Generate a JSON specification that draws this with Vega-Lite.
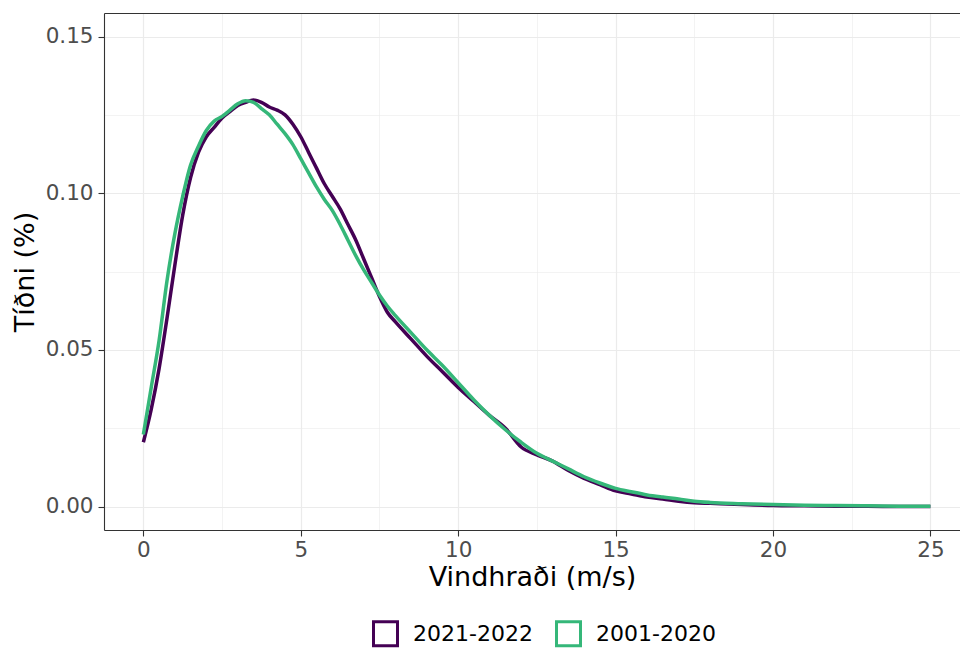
{
  "$schema": "https://vega.github.io/schema/vega-lite/v6.json",
  "autosize": {"type": "none"},
  "padding": {"left": 104, "top": 13, "right": 0, "bottom": 123},
  "width": 856,
  "height": 517,
  "background": "white",
  "config": {
    "view": {"stroke": null},
    "font": "DejaVu Sans",
    "axis": {
      "labelFont": "DejaVu Sans",
      "titleFont": "DejaVu Sans",
      "labelFontSize": 21.5,
      "labelColor": "#4D4D4D",
      "titleFontSize": 27,
      "titleFontWeight": "normal",
      "titleColor": "#000000",
      "tickColor": "#333333",
      "tickSize": 6,
      "tickWidth": 1.1,
      "domainColor": "#333333",
      "domainWidth": 1.1,
      "gridColor": "#EBEBEB"
    }
  },
  "data": {
    "values": [
      {"v": 0, "d": 0.0205, "p": "2021-2022"},
      {"v": 0.25, "d": 0.031, "p": "2021-2022"},
      {"v": 0.5, "d": 0.044, "p": "2021-2022"},
      {"v": 0.75, "d": 0.06, "p": "2021-2022"},
      {"v": 1.0, "d": 0.077, "p": "2021-2022"},
      {"v": 1.25, "d": 0.093, "p": "2021-2022"},
      {"v": 1.5, "d": 0.105, "p": "2021-2022"},
      {"v": 1.75, "d": 0.113, "p": "2021-2022"},
      {"v": 2.0, "d": 0.118, "p": "2021-2022"},
      {"v": 2.25, "d": 0.121, "p": "2021-2022"},
      {"v": 2.5, "d": 0.124, "p": "2021-2022"},
      {"v": 2.75, "d": 0.126, "p": "2021-2022"},
      {"v": 3.0, "d": 0.128, "p": "2021-2022"},
      {"v": 3.25, "d": 0.129, "p": "2021-2022"},
      {"v": 3.5, "d": 0.1297, "p": "2021-2022"},
      {"v": 3.75, "d": 0.129, "p": "2021-2022"},
      {"v": 4.0, "d": 0.1275, "p": "2021-2022"},
      {"v": 4.25, "d": 0.1265, "p": "2021-2022"},
      {"v": 4.5, "d": 0.125, "p": "2021-2022"},
      {"v": 4.75, "d": 0.122, "p": "2021-2022"},
      {"v": 5.0, "d": 0.118, "p": "2021-2022"},
      {"v": 5.25, "d": 0.113, "p": "2021-2022"},
      {"v": 5.5, "d": 0.108, "p": "2021-2022"},
      {"v": 5.75, "d": 0.103, "p": "2021-2022"},
      {"v": 6.0, "d": 0.099, "p": "2021-2022"},
      {"v": 6.25, "d": 0.095, "p": "2021-2022"},
      {"v": 6.5, "d": 0.09, "p": "2021-2022"},
      {"v": 6.75, "d": 0.085, "p": "2021-2022"},
      {"v": 7.0, "d": 0.079, "p": "2021-2022"},
      {"v": 7.25, "d": 0.073, "p": "2021-2022"},
      {"v": 7.5, "d": 0.067, "p": "2021-2022"},
      {"v": 7.75, "d": 0.062, "p": "2021-2022"},
      {"v": 8.0, "d": 0.059, "p": "2021-2022"},
      {"v": 8.5, "d": 0.0535, "p": "2021-2022"},
      {"v": 9.0, "d": 0.048, "p": "2021-2022"},
      {"v": 9.5, "d": 0.043, "p": "2021-2022"},
      {"v": 10.0, "d": 0.038, "p": "2021-2022"},
      {"v": 10.5, "d": 0.0335, "p": "2021-2022"},
      {"v": 11.0, "d": 0.029, "p": "2021-2022"},
      {"v": 11.5, "d": 0.025, "p": "2021-2022"},
      {"v": 12.0, "d": 0.019, "p": "2021-2022"},
      {"v": 12.5, "d": 0.0165, "p": "2021-2022"},
      {"v": 13.0, "d": 0.0145, "p": "2021-2022"},
      {"v": 13.5, "d": 0.0115, "p": "2021-2022"},
      {"v": 14.0, "d": 0.009, "p": "2021-2022"},
      {"v": 14.5, "d": 0.007, "p": "2021-2022"},
      {"v": 15.0, "d": 0.005, "p": "2021-2022"},
      {"v": 15.5, "d": 0.004, "p": "2021-2022"},
      {"v": 16.0, "d": 0.003, "p": "2021-2022"},
      {"v": 16.5, "d": 0.0024, "p": "2021-2022"},
      {"v": 17.0, "d": 0.0017, "p": "2021-2022"},
      {"v": 17.5, "d": 0.0012, "p": "2021-2022"},
      {"v": 18.0, "d": 0.001, "p": "2021-2022"},
      {"v": 19.0, "d": 0.0006, "p": "2021-2022"},
      {"v": 20.0, "d": 0.0003, "p": "2021-2022"},
      {"v": 21.0, "d": 0.0002, "p": "2021-2022"},
      {"v": 22.0, "d": 0.0001, "p": "2021-2022"},
      {"v": 23.0, "d": 0.00005, "p": "2021-2022"},
      {"v": 24.0, "d": 0.00002, "p": "2021-2022"},
      {"v": 25.0, "d": 0.0, "p": "2021-2022"},
      {"v": 0, "d": 0.023, "p": "2001-2020"},
      {"v": 0.25, "d": 0.038, "p": "2001-2020"},
      {"v": 0.5, "d": 0.053, "p": "2001-2020"},
      {"v": 0.75, "d": 0.072, "p": "2001-2020"},
      {"v": 1.0, "d": 0.087, "p": "2001-2020"},
      {"v": 1.25, "d": 0.099, "p": "2001-2020"},
      {"v": 1.5, "d": 0.109, "p": "2001-2020"},
      {"v": 1.75, "d": 0.115, "p": "2001-2020"},
      {"v": 2.0, "d": 0.12, "p": "2001-2020"},
      {"v": 2.25, "d": 0.123, "p": "2001-2020"},
      {"v": 2.5, "d": 0.1245, "p": "2001-2020"},
      {"v": 2.75, "d": 0.1265, "p": "2001-2020"},
      {"v": 3.0, "d": 0.1285, "p": "2001-2020"},
      {"v": 3.25, "d": 0.1295, "p": "2001-2020"},
      {"v": 3.5, "d": 0.129, "p": "2001-2020"},
      {"v": 3.75, "d": 0.127, "p": "2001-2020"},
      {"v": 4.0, "d": 0.125, "p": "2001-2020"},
      {"v": 4.25, "d": 0.122, "p": "2001-2020"},
      {"v": 4.5, "d": 0.119, "p": "2001-2020"},
      {"v": 4.75, "d": 0.1155, "p": "2001-2020"},
      {"v": 5.0, "d": 0.111, "p": "2001-2020"},
      {"v": 5.25, "d": 0.1065, "p": "2001-2020"},
      {"v": 5.5, "d": 0.102, "p": "2001-2020"},
      {"v": 5.75, "d": 0.098, "p": "2001-2020"},
      {"v": 6.0, "d": 0.0945, "p": "2001-2020"},
      {"v": 6.25, "d": 0.09, "p": "2001-2020"},
      {"v": 6.5, "d": 0.085, "p": "2001-2020"},
      {"v": 6.75, "d": 0.08, "p": "2001-2020"},
      {"v": 7.0, "d": 0.0755, "p": "2001-2020"},
      {"v": 7.25, "d": 0.0715, "p": "2001-2020"},
      {"v": 7.5, "d": 0.0675, "p": "2001-2020"},
      {"v": 7.75, "d": 0.064, "p": "2001-2020"},
      {"v": 8.0, "d": 0.061, "p": "2001-2020"},
      {"v": 8.5, "d": 0.0555, "p": "2001-2020"},
      {"v": 9.0, "d": 0.05, "p": "2001-2020"},
      {"v": 9.5, "d": 0.045, "p": "2001-2020"},
      {"v": 10.0, "d": 0.0395, "p": "2001-2020"},
      {"v": 10.5, "d": 0.034, "p": "2001-2020"},
      {"v": 11.0, "d": 0.029, "p": "2001-2020"},
      {"v": 11.5, "d": 0.0245, "p": "2001-2020"},
      {"v": 12.0, "d": 0.0205, "p": "2001-2020"},
      {"v": 12.5, "d": 0.017, "p": "2001-2020"},
      {"v": 13.0, "d": 0.0145, "p": "2001-2020"},
      {"v": 13.5, "d": 0.012, "p": "2001-2020"},
      {"v": 14.0, "d": 0.0095, "p": "2001-2020"},
      {"v": 14.5, "d": 0.0075, "p": "2001-2020"},
      {"v": 15.0, "d": 0.0058, "p": "2001-2020"},
      {"v": 15.5, "d": 0.0047, "p": "2001-2020"},
      {"v": 16.0, "d": 0.0037, "p": "2001-2020"},
      {"v": 16.5, "d": 0.003, "p": "2001-2020"},
      {"v": 17.0, "d": 0.0024, "p": "2001-2020"},
      {"v": 17.5, "d": 0.0017, "p": "2001-2020"},
      {"v": 18.0, "d": 0.0013, "p": "2001-2020"},
      {"v": 19.0, "d": 0.0009, "p": "2001-2020"},
      {"v": 20.0, "d": 0.0006, "p": "2001-2020"},
      {"v": 21.0, "d": 0.0004, "p": "2001-2020"},
      {"v": 22.0, "d": 0.0003, "p": "2001-2020"},
      {"v": 23.0, "d": 0.0002, "p": "2001-2020"},
      {"v": 24.0, "d": 0.0001, "p": "2001-2020"},
      {"v": 25.0, "d": 0.00005, "p": "2001-2020"}
    ]
  },
  "layer": [
    {
      "mark": {"type": "line", "strokeWidth": 3.5, "interpolate": "monotone", "clip": true},
      "encoding": {
        "x": {
          "field": "v", "type": "quantitative",
          "scale": {"domain": [-1.25, 25.94], "nice": false, "zero": false},
          "axis": {
            "orient": "bottom",
            "title": "Vindhraði (m/s)",
            "values": [0, 2.5, 5, 7.5, 10, 12.5, 15, 17.5, 20, 22.5, 25],
            "labelExpr": "datum.value % 5 === 0 ? format(datum.value, 'd') : ''",
            "tickOpacity": {"condition": {"test": "datum.value % 5 === 0", "value": 1}, "value": 0},
            "gridWidth": {"condition": {"test": "datum.value % 5 === 0", "value": 1.2}, "value": 0.6},
            "labelPadding": 3,
            "titlePadding": 4
          }
        },
        "y": {
          "field": "d", "type": "quantitative",
          "scale": {"domain": [-0.0075, 0.1575], "nice": false, "zero": false},
          "axis": {
            "title": "Tíðni (%)",
            "values": [0, 0.025, 0.05, 0.075, 0.1, 0.125, 0.15],
            "labelExpr": "(round(datum.value * 1000) % 50 === 0) ? format(datum.value, '.2f') : ''",
            "tickOpacity": {"condition": {"test": "round(datum.value * 1000) % 50 === 0", "value": 1}, "value": 0},
            "gridWidth": {"condition": {"test": "round(datum.value * 1000) % 50 === 0", "value": 1.2}, "value": 0.6},
            "labelPadding": 5,
            "titlePadding": 6
          }
        },
        "color": {
          "field": "p", "type": "nominal",
          "scale": {"domain": ["2021-2022", "2001-2020"], "range": ["#440154", "#35B779"]},
          "legend": {
            "title": null,
            "orient": "none",
            "legendX": 268,
            "legendY": 607,
            "direction": "horizontal",
            "symbolType": "square",
            "symbolSize": 576,
            "symbolStrokeWidth": 3,
            "symbolFillColor": "white",
            "labelFont": "DejaVu Sans",
            "labelFontSize": 22,
            "labelColor": "#000000",
            "labelOffset": 14,
            "columnPadding": 17
          }
        }
      }
    },
    {
      "mark": {"type": "rule", "opacity": 0},
      "encoding": {
        "x": {
          "field": "v", "type": "quantitative",
          "scale": {"domain": [-1.25, 25.94], "nice": false, "zero": false},
          "axis": {"orient": "top", "title": null, "labels": false, "ticks": false, "grid": false, "domain": true}
        }
      }
    }
  ],
  "resolve": {"axis": {"x": "independent"}}
}
